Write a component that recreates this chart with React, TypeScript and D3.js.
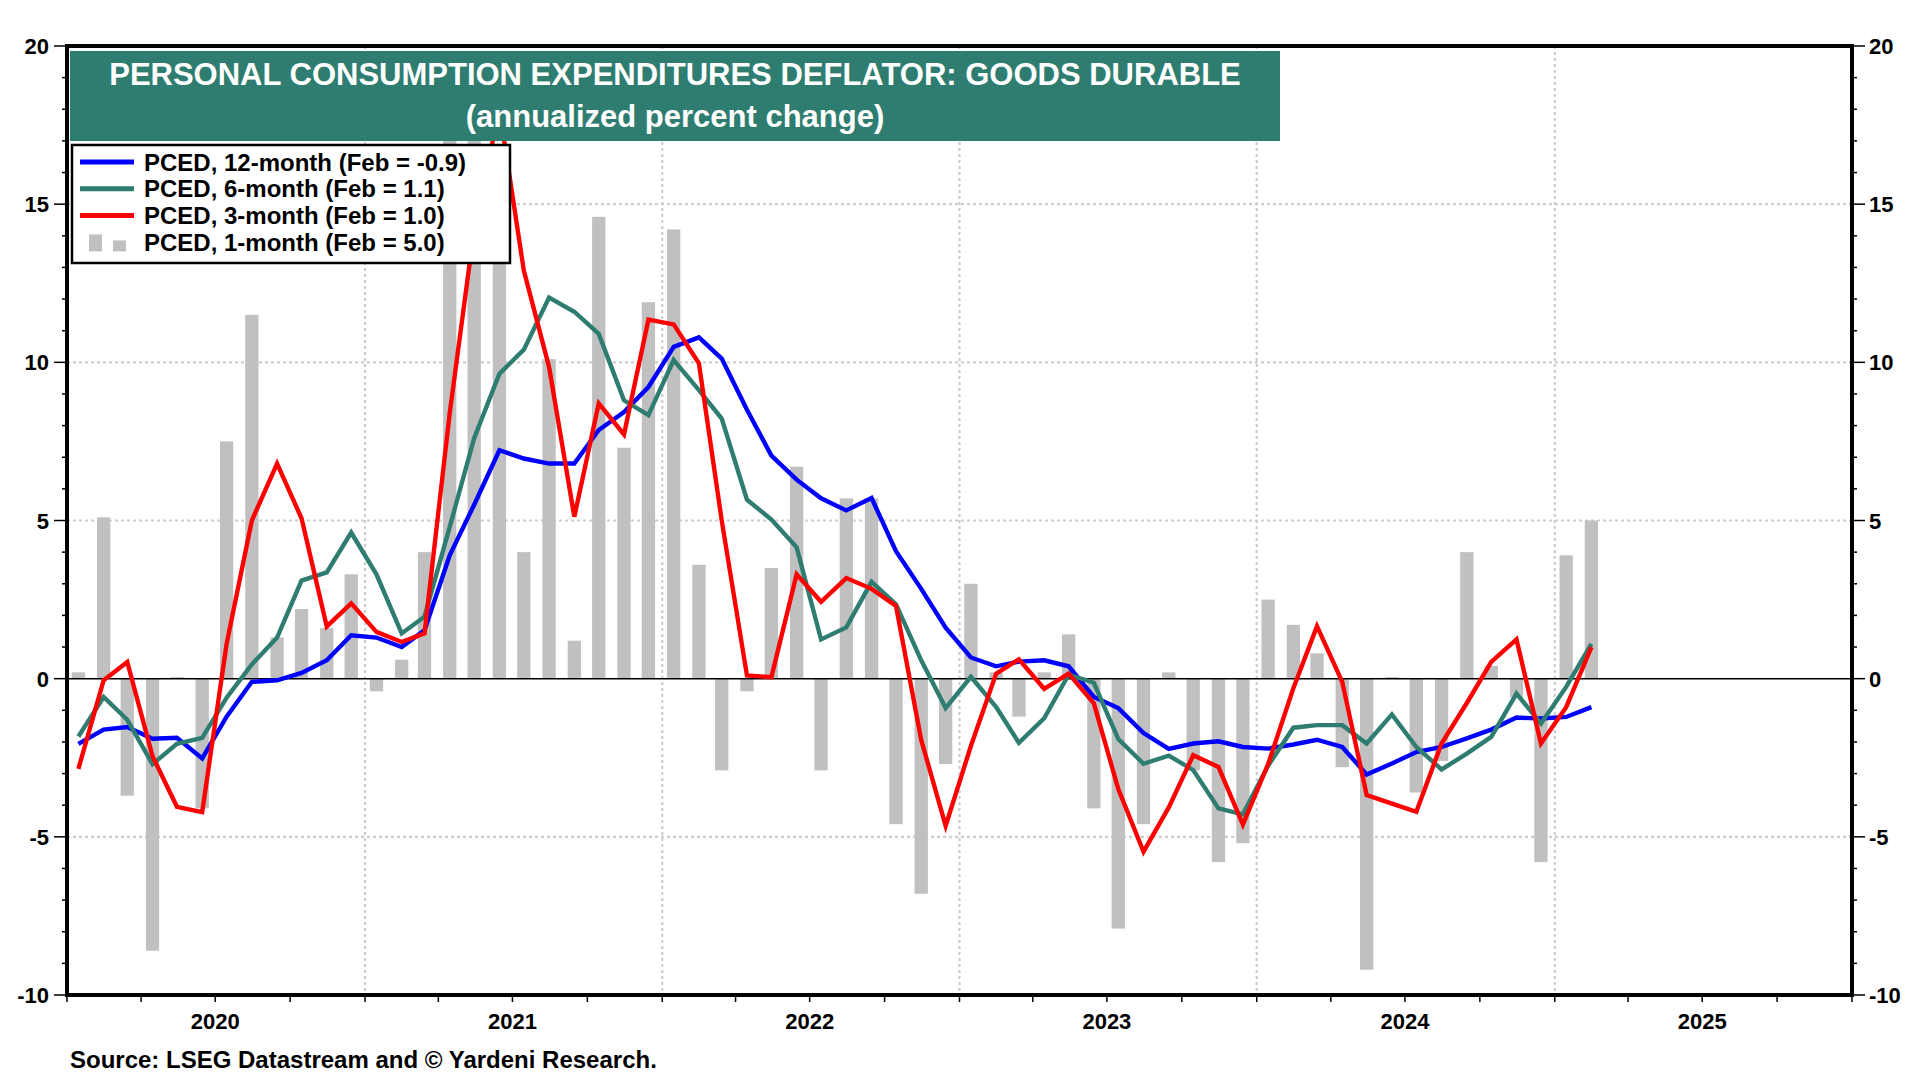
import React, { useEffect, useRef } from 'react';
import * as d3 from 'd3';

// monthly, Jan 2020 .. Feb 2025 (annualized % change)
const oneMonth = [
  0.2, 5.1, -3.7, -8.6, 0.05, -4.1, 7.5, 11.5, 1.3, 2.2, 1.6, 3.3,
  -0.4, 0.6, 4.0, 19.8, 18.8, 15.4, 4.0, 10.1, 1.2, 14.6, 7.3, 11.9,
  14.2, 3.6, -2.9, -0.4, 3.5, 6.7, -2.9, 5.7, 5.7, -4.6, -6.8, -2.7,
  3.0, 0.2, -1.2, 0.2, 1.4, -4.1, -7.9, -4.6, 0.2, -2.9, -5.8, -5.2,
  2.5, 1.7, 0.8, -2.8, -9.2, 0.05, -3.6, -2.6, 4.0, 0.4, -0.6, -5.8,
  3.9, 5.0,
];

const threeMonth = [
  -2.85, -0.05, 0.53, -2.45, -4.05, -4.22, 1.1, 5.0, 6.8, 5.07, 1.65, 2.38,
  1.48, 1.16, 1.43, 8.4, 14.2, 18.0, 12.9, 9.85, 5.12, 8.7, 7.72, 11.35,
  11.2, 9.97, 5.0, 0.1, 0.05, 3.3, 2.43, 3.18, 2.84, 2.3, -1.94, -4.65,
  -2.13, 0.16, 0.61, -0.32, 0.16, -0.78, -3.49, -5.47, -4.07, -2.42, -2.79, -4.61,
  -2.7, -0.3, 1.66, -0.1, -3.68, -3.95, -4.21, -2.05, -0.77, 0.53, 1.24, -2.05,
  -0.9, 1.0,
];

const sixMonth = [
  -1.83, -0.58, -1.3, -2.7, -2.06, -1.87, -0.6, 0.45, 1.3, 3.1, 3.36, 4.62,
  3.3, 1.43, 1.96, 4.8, 7.6, 9.64, 10.4, 12.05, 11.6, 10.9, 8.8, 8.33,
  10.07, 9.12, 8.22, 5.66, 5.03, 4.15, 1.24, 1.62, 3.06, 2.35, 0.58, -0.93,
  0.06, -0.9, -2.03, -1.25, 0.13, -0.13, -1.91, -2.69, -2.43, -2.89, -4.1, -4.29,
  -2.75, -1.55, -1.47, -1.47, -2.05, -1.13, -2.16, -2.87, -2.37, -1.84, -0.47, -1.42,
  -0.26, 1.1,
];

const twelveMonth = [
  -2.06, -1.61, -1.53, -1.9, -1.87, -2.52, -1.2, -0.1, -0.05, 0.18, 0.58, 1.37,
  1.3, 1.0, 1.53, 3.9, 5.5, 7.22, 6.96, 6.8, 6.8, 7.86, 8.43, 9.22,
  10.49, 10.79, 10.12, 8.5, 7.05, 6.29, 5.7, 5.32, 5.71, 4.03, 2.84, 1.61,
  0.67, 0.39, 0.54, 0.58, 0.39, -0.58, -0.93, -1.72, -2.22, -2.05, -1.98, -2.16,
  -2.21, -2.08, -1.93, -2.16, -3.03, -2.68, -2.32, -2.16, -1.89, -1.61, -1.23, -1.26,
  -1.21, -0.9,
];

const yTicks = [-10, -5, 0, 5, 10, 15, 20];
const years = [2020, 2021, 2022, 2023, 2024, 2025];

const titleLines = [
  'PERSONAL CONSUMPTION EXPENDITURES DEFLATOR: GOODS DURABLE',
  '(annualized percent change)',
];

const legendItems = [
  { label: 'PCED, 12-month (Feb = -0.9)', color: '#0000ff', kind: 'line' },
  { label: 'PCED, 6-month (Feb = 1.1)', color: '#2e7d70', kind: 'line' },
  { label: 'PCED, 3-month (Feb = 1.0)', color: '#ff0000', kind: 'line' },
  { label: 'PCED, 1-month (Feb = 5.0)', color: '#c0c0c0', kind: 'bar' },
];

const sourceText = 'Source: LSEG Datastream and \u00A9 Yardeni Research.';

const FONT = "'Liberation Sans', Arial, sans-serif";

const App: React.FC = () => {
  const svgRef = useRef<SVGSVGElement>(null);

  useEffect(() => {
    if (!svgRef.current) return;
    const svg = d3.select(svgRef.current);
    svg.selectAll('*').remove();

    const left = 67, right = 1852, top = 46, bottom = 995;

    const months = oneMonth.map((_, i) => new Date(2020, i, 15));

    const x = d3.scaleTime()
      .domain([new Date(2020, 0, 1), new Date(2026, 0, 1)])
      .range([left, right]);
    const y = d3.scaleLinear().domain([-10, 20]).range([bottom, top]);

    svg.append('rect').attr('width', 1920).attr('height', 1080).attr('fill', '#fff');

    svg.append('clipPath').attr('id', 'plot-clip')
      .append('rect')
      .attr('x', left).attr('y', top)
      .attr('width', right - left).attr('height', bottom - top);

    // grid
    const grid = svg.append('g')
      .attr('stroke', '#cdcdcd')
      .attr('stroke-width', 2.2)
      .attr('stroke-dasharray', '3,3');
    grid.selectAll('line.h')
      .data(yTicks.filter(t => t !== 0 && t !== 20 && t !== -10))
      .enter().append('line')
      .attr('x1', left).attr('x2', right)
      .attr('y1', d => y(d)).attr('y2', d => y(d));
    grid.selectAll('line.v')
      .data(years.slice(1).map(yr => new Date(yr, 0, 1)))
      .enter().append('line')
      .attr('x1', d => x(d)).attr('x2', d => x(d))
      .attr('y1', top).attr('y2', bottom);

    const plot = svg.append('g').attr('clip-path', 'url(#plot-clip)');

    // 1-month bars
    const barW = 13.3;
    plot.selectAll('rect.bar')
      .data(oneMonth)
      .enter().append('rect')
      .attr('x', (_, i) => x(months[i]) - barW / 2)
      .attr('width', barW)
      .attr('y', d => y(Math.max(0, d)))
      .attr('height', d => Math.abs(y(d) - y(0)))
      .attr('fill', '#c0c0c0');

    // zero line
    plot.append('line')
      .attr('x1', left).attr('x2', right)
      .attr('y1', y(0)).attr('y2', y(0))
      .attr('stroke', '#000').attr('stroke-width', 1.5);

    const line = d3.line<number>()
      .x((_, i) => x(months[i]))
      .y(d => y(d));

    const series: [number[], string][] = [
      [twelveMonth, '#0000ff'],
      [sixMonth, '#2e7d70'],
      [threeMonth, '#ff0000'],
    ];
    series.forEach(([vals, color]) => {
      plot.append('path')
        .datum(vals)
        .attr('d', line)
        .attr('fill', 'none')
        .attr('stroke', color)
        .attr('stroke-width', 4.4);
    });

    // frame
    svg.append('rect')
      .attr('x', left).attr('y', top)
      .attr('width', right - left).attr('height', bottom - top)
      .attr('fill', 'none').attr('stroke', '#000').attr('stroke-width', 4);

    // y ticks, both sides
    const minor = d3.range(-10, 21, 1);
    const ticks = svg.append('g').attr('stroke', '#000').attr('stroke-width', 1.5);
    minor.forEach(v => {
      const len = v % 5 === 0 ? 13 : 5;
      ticks.append('line').attr('x1', left - len).attr('x2', left).attr('y1', y(v)).attr('y2', y(v));
      ticks.append('line').attr('x1', right).attr('x2', right + len).attr('y1', y(v)).attr('y2', y(v));
    });

    const labels = svg.append('g')
      .attr('font-family', FONT).attr('font-weight', 'bold').attr('font-size', 22).attr('fill', '#000');
    labels.selectAll('text.yl')
      .data(yTicks).enter().append('text')
      .attr('x', left - 18).attr('y', d => y(d) + 8)
      .attr('text-anchor', 'end')
      .text(d => d);
    labels.selectAll('text.yr')
      .data(yTicks).enter().append('text')
      .attr('x', right + 17).attr('y', d => y(d) + 8)
      .attr('text-anchor', 'start')
      .text(d => d);

    // x ticks (quarters) and year labels
    const quarters = d3.timeMonth.every(3)!.range(new Date(2020, 0, 1), new Date(2026, 0, 2));
    svg.append('g').attr('stroke', '#000').attr('stroke-width', 1.5)
      .selectAll('line').data(quarters).enter().append('line')
      .attr('x1', d => x(d)).attr('x2', d => x(d))
      .attr('y1', bottom).attr('y2', bottom + 7);
    svg.append('g')
      .attr('font-family', FONT).attr('font-weight', 'bold').attr('font-size', 22)
      .selectAll('text').data(years).enter().append('text')
      .attr('x', d => x(new Date(d, 6, 1)))
      .attr('y', 1029)
      .attr('text-anchor', 'middle')
      .text(d => d);

    // title band
    svg.append('rect')
      .attr('x', 70).attr('y', 51).attr('width', 1210).attr('height', 90)
      .attr('fill', '#2e7d70');
    svg.append('g')
      .attr('font-family', FONT).attr('font-weight', 'bold').attr('font-size', 31)
      .attr('fill', '#fff').attr('text-anchor', 'middle')
      .selectAll('text').data(titleLines).enter().append('text')
      .attr('x', 675).attr('y', (_, i) => (i === 0 ? 85 : 127))
      .text(d => d);

    // legend
    const lg = svg.append('g');
    lg.append('rect')
      .attr('x', 72).attr('y', 145).attr('width', 438).attr('height', 118)
      .attr('fill', '#fff').attr('stroke', '#000').attr('stroke-width', 2.5);
    legendItems.forEach((item, i) => {
      const cy = 162 + i * 26.8;
      if (item.kind === 'line') {
        lg.append('line')
          .attr('x1', 80).attr('x2', 134).attr('y1', cy).attr('y2', cy)
          .attr('stroke', item.color).attr('stroke-width', 5);
      } else {
        lg.append('rect').attr('x', 89).attr('y', cy - 8).attr('width', 13).attr('height', 17).attr('fill', item.color);
        lg.append('rect').attr('x', 113).attr('y', cy - 2).attr('width', 13).attr('height', 11).attr('fill', item.color);
      }
      lg.append('text')
        .attr('x', 144).attr('y', cy + 8.5)
        .attr('font-family', FONT).attr('font-weight', 'bold').attr('font-size', 24)
        .text(item.label);
    });

    svg.append('text')
      .attr('x', 70).attr('y', 1068)
      .attr('font-family', FONT).attr('font-weight', 'bold').attr('font-size', 24)
      .text(sourceText);
  }, []);

  return (
    <svg
      ref={svgRef}
      width={1920}
      height={1080}
      style={{ position: 'absolute', left: 0, top: 0 }}
    />
  );
};

export default App;
